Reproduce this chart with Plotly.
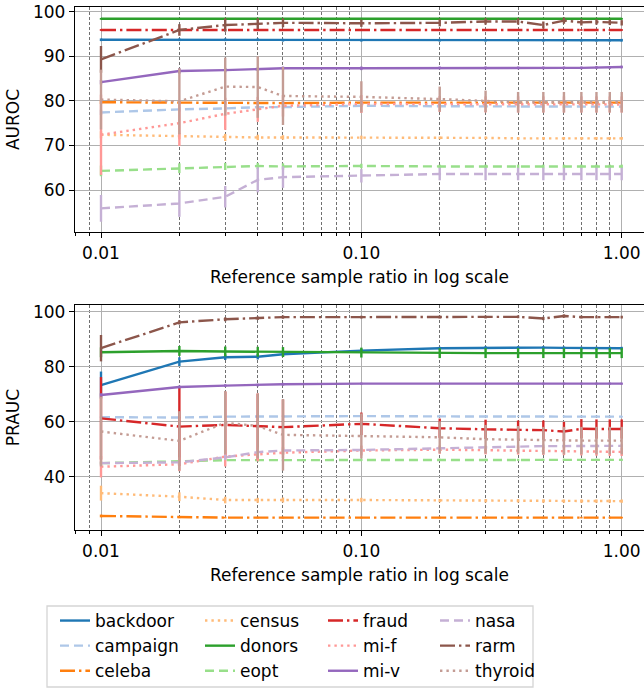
import plotly.graph_objects as go

ratios = [0.01, 0.02, 0.03, 0.04, 0.05, 0.1, 0.2, 0.3, 0.4, 0.5, 0.6, 0.7, 0.8, 0.9, 1.0]
datasets = ["backdoor", "campaign", "celeba", "census", "donors", "eopt",
            "fraud", "mi-f", "mi-v", "nasa", "rarm", "thyroid"]
colors = ["#1f77b4", "#aec7e8", "#ff7f0e", "#ffbb78", "#2ca02c", "#98df8a",
          "#d62728", "#ff9896", "#9467bd", "#c5b0d5", "#8c564b", "#c49c94"]

# AUROC means
auroc_backdoor = [93.7, 93.7, 93.7, 93.7, 93.6, 93.6, 93.6, 93.6, 93.6, 93.6, 93.6, 93.6, 93.6, 93.6, 93.6]
auroc_campaign = [77.4, 78.1, 78.3, 78.6, 78.6, 78.9, 78.8, 78.8, 78.8, 78.8, 78.7, 78.7, 78.7, 78.7, 78.7]
auroc_celeba = [79.7, 79.6, 79.5, 79.5, 79.5, 79.6, 79.6, 79.6, 79.6, 79.6, 79.6, 79.6, 79.6, 79.6, 79.6]
auroc_census = [72.4, 72.1, 71.8, 71.8, 71.8, 71.8, 71.7, 71.7, 71.6, 71.6, 71.6, 71.6, 71.6, 71.6, 71.6]
auroc_donors = [98.4, 98.4, 98.4, 98.4, 98.4, 98.4, 98.4, 98.4, 98.4, 98.4, 98.4, 98.4, 98.4, 98.4, 98.4]
auroc_eopt = [64.3, 64.9, 65.3, 65.4, 65.3, 65.4, 65.3, 65.3, 65.3, 65.3, 65.3, 65.3, 65.3, 65.3, 65.3]
auroc_fraud = [95.9, 95.9, 95.9, 95.9, 95.9, 95.9, 95.9, 95.9, 95.9, 95.9, 95.9, 95.9, 95.9, 95.9, 95.9]
auroc_mif = [72.4, 75.0, 77.1, 78.1, 78.9, 79.3, 79.3, 79.2, 79.2, 79.2, 79.2, 79.2, 79.2, 79.2, 79.2]
auroc_miv = [84.2, 86.7, 86.9, 87.1, 87.3, 87.3, 87.4, 87.4, 87.4, 87.4, 87.4, 87.4, 87.5, 87.5, 87.6]
auroc_nasa = [55.9, 57.0, 58.5, 62.3, 62.9, 63.2, 63.6, 63.6, 63.6, 63.6, 63.6, 63.6, 63.6, 63.6, 63.6]
auroc_rarm = [89.3, 95.9, 97.0, 97.3, 97.5, 97.4, 97.5, 97.8, 97.8, 97.0, 98.0, 97.6, 97.7, 97.6, 97.5]
auroc_thyroid = [80.3, 79.9, 83.2, 83.1, 81.1, 80.9, 80.4, 79.9, 79.7, 79.7, 79.7, 79.7, 79.7, 79.7, 79.7]

# AUROC standard deviations
auroc_err_backdoor = [0.3, 0.3, 0.3, 0.3, 0.3, 0.3, 0.3, 0.3, 0.3, 0.3, 0.3, 0.3, 0.3, 0.3, 0.3]
auroc_err_campaign = [0.6, 0.5, 0.5, 0.4, 0.4, 0.3, 0.3, 0.3, 0.3, 0.3, 0.3, 0.3, 0.3, 0.3, 0.3]
auroc_err_celeba = [0.4, 0.3, 0.3, 0.3, 0.3, 0.3, 0.3, 0.3, 0.3, 0.3, 0.3, 0.3, 0.3, 0.3, 0.3]
auroc_err_census = [0.8, 0.7, 0.8, 0.6, 0.5, 0.4, 0.3, 0.3, 0.3, 0.3, 0.3, 0.3, 0.3, 0.3, 0.3]
auroc_err_donors = [0.2, 0.2, 0.2, 0.2, 0.2, 0.2, 0.2, 0.2, 0.2, 0.2, 0.2, 0.2, 0.2, 0.2, 0.2]
auroc_err_eopt = [1.2, 1.1, 0.8, 0.7, 0.7, 0.5, 0.4, 0.4, 0.4, 0.4, 0.4, 0.4, 0.4, 0.4, 0.4]
auroc_err_fraud = [0.2, 0.2, 0.2, 0.2, 0.2, 0.2, 0.2, 0.2, 0.2, 0.2, 0.2, 0.2, 0.2, 0.2, 0.2]
auroc_err_mif = [9.0, 5.1, 3.6, 2.8, 2.4, 2.0, 1.8, 1.8, 1.8, 1.8, 1.8, 1.8, 1.8, 1.8, 1.8]
auroc_err_miv = [0.5, 0.6, 0.5, 0.4, 0.4, 0.4, 0.3, 0.3, 0.3, 0.3, 0.3, 0.3, 0.3, 0.3, 0.3]
auroc_err_nasa = [3.0, 3.0, 2.4, 2.8, 2.4, 1.5, 1.4, 1.4, 1.4, 1.4, 1.4, 1.4, 1.4, 1.4, 1.4]
auroc_err_rarm = [3.0, 1.3, 1.5, 1.2, 1.0, 0.8, 0.8, 0.7, 0.7, 0.8, 0.7, 0.7, 0.6, 0.6, 0.6]
auroc_err_thyroid = [6.7, 7.4, 6.5, 6.9, 6.5, 3.5, 2.8, 2.4, 2.3, 2.3, 2.3, 2.3, 2.3, 2.3, 2.3]

# PRAUC means
prauc_backdoor = [73.3, 81.8, 83.4, 83.6, 84.5, 85.8, 86.7, 86.9, 86.9, 86.9, 86.8, 86.7, 86.7, 86.7, 86.7]
prauc_campaign = [61.6, 61.5, 61.8, 61.9, 62.0, 62.0, 61.9, 61.9, 61.9, 61.9, 61.9, 61.9, 61.9, 61.8, 61.8]
prauc_celeba = [25.7, 25.2, 25.1, 25.1, 25.1, 25.1, 25.1, 25.1, 25.1, 25.1, 25.1, 25.1, 25.1, 25.1, 25.1]
prauc_census = [34.0, 32.7, 31.5, 31.4, 31.5, 31.5, 31.3, 31.2, 31.2, 31.1, 31.1, 31.1, 31.1, 31.1, 31.1]
prauc_donors = [85.2, 85.7, 85.5, 85.4, 85.3, 85.1, 84.9, 84.9, 84.9, 84.9, 84.9, 84.9, 84.9, 84.9, 84.9]
prauc_eopt = [44.9, 45.6, 46.0, 46.0, 46.0, 46.1, 46.1, 46.1, 46.1, 46.1, 46.1, 46.1, 46.1, 46.1, 46.1]
prauc_fraud = [61.2, 58.2, 58.8, 58.2, 58.0, 59.2, 57.6, 57.2, 56.9, 56.9, 56.4, 57.4, 57.3, 57.3, 57.3]
prauc_mif = [43.6, 44.5, 47.3, 48.1, 48.7, 49.5, 49.8, 49.6, 49.5, 49.4, 49.3, 49.2, 49.1, 49.0, 49.0]
prauc_miv = [69.7, 72.6, 73.1, 73.3, 73.6, 73.8, 73.8, 73.8, 73.8, 73.8, 73.8, 73.8, 73.8, 73.8, 73.8]
prauc_nasa = [44.9, 45.2, 47.0, 48.9, 49.5, 49.7, 50.3, 50.7, 51.0, 51.1, 51.1, 51.2, 51.2, 51.2, 51.2]
prauc_rarm = [86.7, 96.1, 97.2, 97.6, 98.0, 98.0, 98.0, 98.0, 98.1, 97.5, 98.4, 98.0, 98.0, 98.1, 98.0]
prauc_thyroid = [56.4, 53.0, 59.6, 58.4, 55.2, 54.8, 54.3, 53.6, 53.4, 53.1, 53.1, 53.1, 53.1, 53.1, 53.1]

# PRAUC standard deviations
prauc_err_backdoor = [4.9, 1.6, 1.0, 1.0, 0.8, 0.7, 0.5, 0.5, 0.5, 0.5, 0.5, 0.5, 0.5, 0.5, 0.5]
prauc_err_campaign = [0.3, 0.3, 0.3, 0.3, 0.3, 0.3, 0.3, 0.3, 0.3, 0.3, 0.3, 0.3, 0.3, 0.3, 0.3]
prauc_err_celeba = [0.5, 0.3, 0.3, 0.3, 0.3, 0.3, 0.3, 0.3, 0.3, 0.3, 0.3, 0.3, 0.3, 0.3, 0.3]
prauc_err_census = [2.7, 1.6, 1.2, 0.9, 0.9, 0.8, 0.6, 0.6, 0.6, 0.6, 0.6, 0.6, 0.6, 0.6, 0.6]
prauc_err_donors = [1.8, 1.8, 1.8, 1.8, 1.8, 1.8, 1.8, 1.8, 1.8, 1.8, 1.8, 1.8, 1.8, 1.8, 1.8]
prauc_err_eopt = [0.4, 0.4, 0.4, 0.4, 0.4, 0.4, 0.4, 0.4, 0.4, 0.4, 0.4, 0.4, 0.4, 0.4, 0.4]
prauc_err_fraud = [15.0, 14.3, 12.1, 12.0, 10.0, 4.1, 3.5, 3.5, 3.5, 3.5, 3.5, 3.5, 3.5, 3.5, 3.5]
prauc_err_mif = [3.9, 2.5, 3.6, 2.5, 2.0, 1.8, 1.5, 1.5, 1.5, 1.5, 1.5, 1.5, 1.5, 1.5, 1.5]
prauc_err_miv = [0.6, 0.5, 0.5, 0.5, 0.5, 0.4, 0.4, 0.4, 0.4, 0.4, 0.4, 0.4, 0.4, 0.4, 0.4]
prauc_err_nasa = [0.8, 0.8, 1.0, 1.0, 0.8, 0.6, 0.6, 0.6, 0.6, 0.6, 0.6, 0.6, 0.6, 0.6, 0.6]
prauc_err_rarm = [4.8, 0.8, 0.7, 0.6, 0.6, 0.5, 0.5, 0.5, 0.5, 0.6, 0.6, 0.5, 0.5, 0.5, 0.5]
prauc_err_thyroid = [12.7, 10.8, 11.5, 11.8, 13.0, 8.2, 5.8, 5.2, 5.0, 5.0, 5.0, 5.0, 5.0, 5.0, 5.0]

auroc = [auroc_backdoor, auroc_campaign, auroc_celeba, auroc_census, auroc_donors, auroc_eopt,
         auroc_fraud, auroc_mif, auroc_miv, auroc_nasa, auroc_rarm, auroc_thyroid]
auroc_err = [auroc_err_backdoor, auroc_err_campaign, auroc_err_celeba, auroc_err_census,
             auroc_err_donors, auroc_err_eopt, auroc_err_fraud, auroc_err_mif, auroc_err_miv,
             auroc_err_nasa, auroc_err_rarm, auroc_err_thyroid]
prauc = [prauc_backdoor, prauc_campaign, prauc_celeba, prauc_census, prauc_donors, prauc_eopt,
         prauc_fraud, prauc_mif, prauc_miv, prauc_nasa, prauc_rarm, prauc_thyroid]
prauc_err = [prauc_err_backdoor, prauc_err_campaign, prauc_err_celeba, prauc_err_census,
             prauc_err_donors, prauc_err_eopt, prauc_err_fraud, prauc_err_mif, prauc_err_miv,
             prauc_err_nasa, prauc_err_rarm, prauc_err_thyroid]

x_tickvals = [0.01, 0.1, 1.0]
x_ticktext = ["0.01", "0.10", "1.00"]
x_minor = [0.008, 0.009, 0.02, 0.03, 0.04, 0.05, 0.06, 0.07, 0.08, 0.09,
           0.2, 0.3, 0.4, 0.5, 0.6, 0.7, 0.8, 0.9]
auroc_ticks = [60, 70, 80, 90, 100]
prauc_ticks = [40, 60, 80, 100]
x_title = "Reference sample ratio in log scale"

LW = 2.4
dashes = ["solid", "9px,5px", "15px,4px,2.4px,4px", "2.4px,4px"]
legend_ids = ["legend", "legend2", "legend3", "legend4"]

FONT = "DejaVu Sans"
FS = 17
W, H = 644, 688
PLOT_L = 75                  # px of the left axis

fig = go.Figure()
for panel, (means, errs) in enumerate([(auroc, auroc_err), (prauc, prauc_err)]):
    for i, name in enumerate(datasets):
        fig.add_trace(go.Scatter(
            x=ratios, y=means[i], name=name, mode="lines",
            line=dict(color=colors[i], width=LW, dash=dashes[i % 4]),
            error_y=dict(type="data", array=errs[i], visible=True, color=colors[i],
                         thickness=LW, width=0),
            xaxis="x" if panel == 0 else "x2",
            yaxis="y" if panel == 0 else "y2",
            showlegend=(panel == 0),
            legend=legend_ids[i // 3],
        ))

def px_x(px):
    return min(1.0, max(0.0, px / W))

def px_y(px):
    return min(1.0, max(0.0, 1 - px / H))

# x range: 0.01 at px 101, 1.0 at px 621.7 -> 260.35 px per decade
PPD = 260.35
x_lo = -2 - (101 - PLOT_L) / PPD
x_hi = 0 + (644 - 621.7) / PPD

def xaxis_cfg(anchor):
    return dict(
        type="log", range=[x_lo, x_hi], anchor=anchor, domain=[px_x(PLOT_L), 1],
        tickmode="array", tickvals=x_tickvals, ticktext=x_ticktext,
        ticks="outside", ticklen=5, tickwidth=1.2, tickcolor="black",
        showline=True, linecolor="black", linewidth=1.3, mirror=True,
        showgrid=True, gridcolor="#b0b0b0", gridwidth=1.2,
        minor=dict(tickmode="array", tickvals=x_minor, ticks="outside", ticklen=3,
                   tickcolor="black", showgrid=True, gridcolor="#707070",
                   griddash="3px,2px", gridwidth=0.8),
        title=dict(text=x_title, font=dict(size=FS, family=FONT, color="black"), standoff=9),
        tickfont=dict(size=FS, family=FONT, color="black"),
        tickangle=0, automargin=False, zeroline=False,
    )

def yaxis_cfg(anchor, dom, rng, ticks, title):
    return dict(
        anchor=anchor, domain=dom, range=rng, tickmode="array", tickvals=ticks,
        ticks="outside", ticklen=5, tickwidth=1.2, tickcolor="black",
        showline=True, linecolor="black", linewidth=1.3, mirror=False,
        showgrid=True, gridcolor="#b0b0b0", gridwidth=1.2, zeroline=False,
        title=dict(text=title, font=dict(size=FS, family=FONT, color="black"), standoff=9),
        tickfont=dict(size=FS, family=FONT, color="black"), automargin=False,
    )

legend_x = [55, 200, 323, 435]
legends = {}
for k, lid in enumerate(legend_ids):
    legends[lid] = dict(
        x=px_x(legend_x[k]), y=px_y(603),
        xanchor="left", yanchor="top", bgcolor="rgba(0,0,0,0)", borderwidth=0,
        font=dict(size=FS, family=FONT, color="black"), traceorder="normal",
        itemwidth=30, tracegroupgap=0, orientation="v",
    )

fig.update_layout(
    width=W, height=H,
    margin=dict(l=0, r=0, t=0, b=0, autoexpand=False),
    paper_bgcolor="white", plot_bgcolor="white",
    font=dict(family=FONT, size=FS, color="black"),
    xaxis=xaxis_cfg("y"),
    xaxis2=xaxis_cfg("y2"),
    yaxis=yaxis_cfg("x", [px_y(232), px_y(7)], [50.6, 101.05], auroc_ticks, "AUROC"),
    yaxis2=yaxis_cfg("x2", [px_y(530), px_y(305)], [20.6, 102.4], prauc_ticks, "PRAUC"),
    shapes=[dict(type="rect", xref="paper", yref="paper",
                 x0=px_x(47), x1=px_x(533), y0=px_y(687), y1=px_y(606),
                 line=dict(color="#d5d5d5", width=1.3), fillcolor="white", layer="below")],
    **legends,
)

fig.write_html(
    "out.html",
    config={"displayModeBar": False},
    post_script="document.body.style.margin='0px'; document.body.style.overflow='hidden';",
)
